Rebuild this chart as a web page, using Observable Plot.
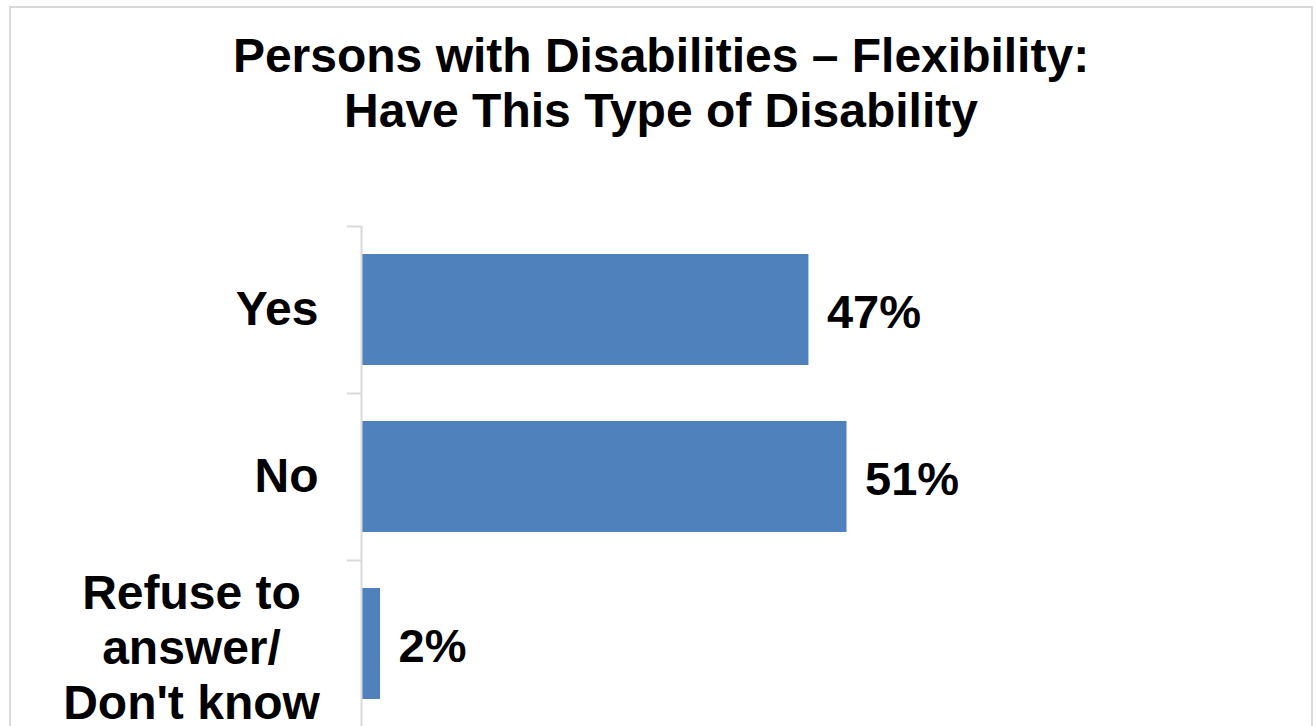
<!DOCTYPE html>
<html>
<head>
<meta charset="utf-8">
<script src="https://cdn.jsdelivr.net/npm/d3@7"></script>
<script src="https://cdn.jsdelivr.net/npm/@observablehq/plot@0.6"></script>
<style>
  html, body { margin: 0; padding: 0; background: #fff; width: 1316px; height: 726px; overflow: hidden; }
  body { position: relative; font-family: "Liberation Sans", Arial, sans-serif; }
  #frame { position: absolute; left: 9px; top: 6px; width: 1304px; height: 800px; box-sizing: border-box; border: 2px solid #d9d9d9; }
  #title { position: absolute; left: 10px; width: 1302px; top: 28px; text-align: center; font-size: 48px; font-weight: bold; line-height: 55px; color: #000; }
  #chart { position: absolute; left: 0; top: 140px; }
</style>
</head>
<body>
<div id="frame"></div>
<div id="title">Persons with Disabilities – Flexibility:<br>Have This Type of Disability</div>
<div id="chart"></div>
<script>
const categories = ["Yes", "No", "Refuse to\nanswer/\nDon't know"];
const values = [47, 51, 2];
const data = categories.map((c, i) => ({category: c, value: values[i]}));

const singleLine = data.filter(d => !d.category.includes("\n"));
const multiLine = data.filter(d => d.category.includes("\n"));

const axisColor = "#d9d9d9";
const step = (727 - 226) / categories.length;

const chart = Plot.plot({
  width: 1316,
  height: 600,
  marginTop: 86,
  marginBottom: 13,
  marginLeft: 361,
  marginRight: 3,
  style: {fontFamily: "'Liberation Sans', Arial, sans-serif", background: "transparent"},
  x: {domain: [0, 100], axis: null},
  y: {type: "band", domain: categories, paddingInner: 0.335, paddingOuter: 0.1675, axis: null},
  marks: [
    Plot.barX(data, {x: "value", y: "category", fill: "#4f81bd"}),
    Plot.ruleX([0], {stroke: axisColor, strokeWidth: 2}),
    Plot.ruleY(categories, {y: d => d, x1: -1.5, x2: 0, dy: -step / 2, stroke: axisColor, strokeWidth: 2}),
    Plot.text(singleLine, {x: 0, y: "category", text: "category", textAnchor: "end", dx: -43, fontSize: 48, fontWeight: "bold", fill: "#000"}),
    Plot.text(multiLine, {x: 0, y: "category", text: "category", textAnchor: "middle", lineAnchor: "middle", lineHeight: 1.146, dx: -170, dy: 2, fontSize: 48, fontWeight: "bold", fill: "#000"}),
    Plot.text(data, {x: "value", y: "category", text: d => d.value + "%", textAnchor: "start", dx: 18, dy: 3, fontSize: 47, fontWeight: "bold", fill: "#000"})
  ]
});
document.getElementById("chart").appendChild(chart);
</script>
</body>
</html>
